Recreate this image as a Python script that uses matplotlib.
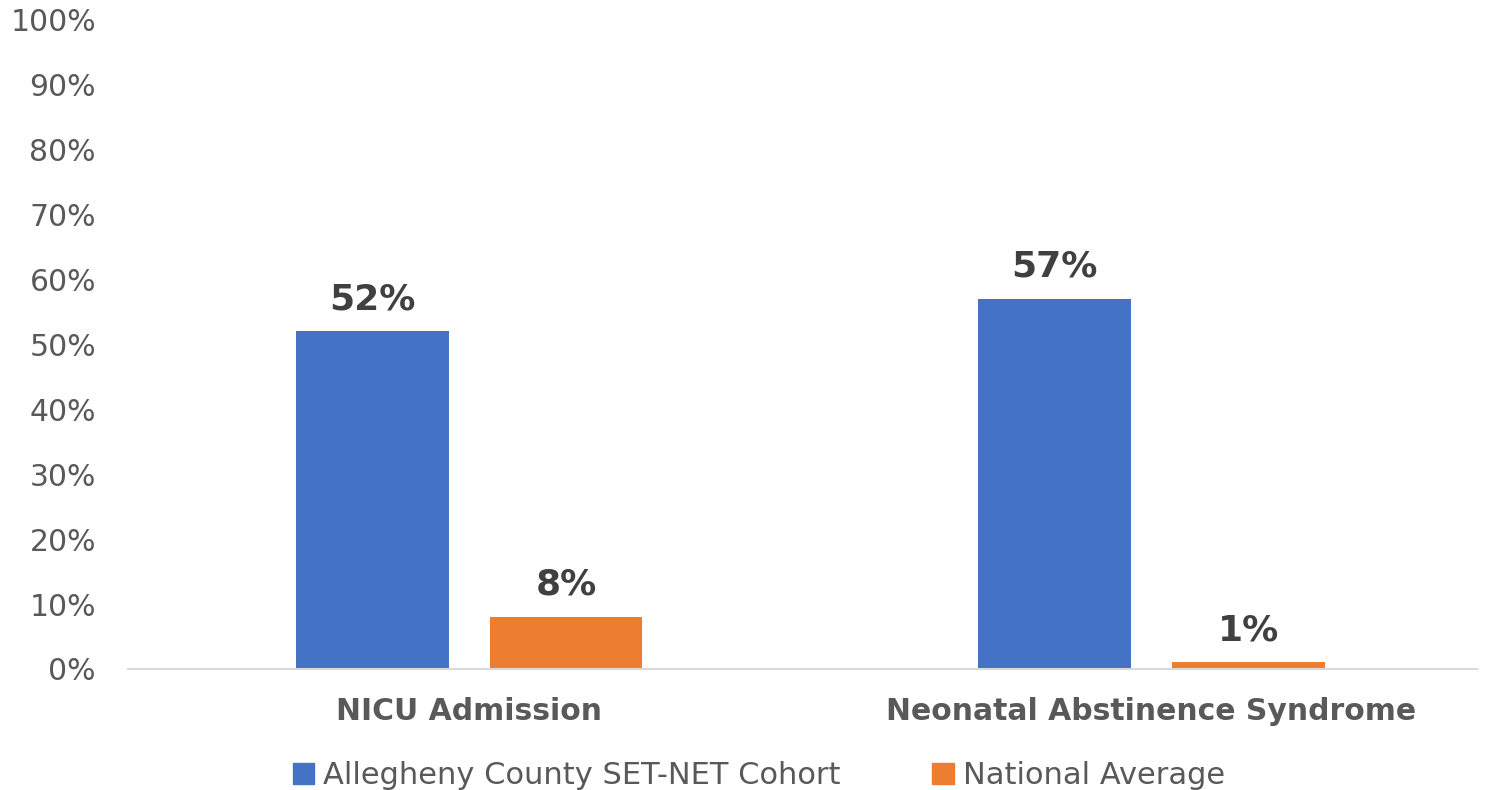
import matplotlib.pyplot as plt
import numpy as np
from matplotlib.patches import Patch

# chart data
categories = ["NICU Admission", "Neonatal Abstinence Syndrome"]
series_names = ["Allegheny County SET-NET Cohort", "National Average"]
cohort = [0.52, 0.57]
national = [0.08, 0.01]
colors = ["#4472C4", "#ED7D31"]

fig = plt.figure(figsize=(14.91, 7.90), dpi=100)
ax = fig.add_axes([0.0858, 0.1532, 0.9048, 0.8215])

x = np.arange(len(categories))
width = 0.224
offset = 0.142

bars1 = ax.bar(x - offset, cohort, width, color=colors[0])
bars2 = ax.bar(x + offset, national, width, color=colors[1])

# value labels above bars
for bars in (bars1, bars2):
    for b in bars:
        ax.annotate(f"{b.get_height() * 100:.0f}%",
                    (b.get_x() + b.get_width() / 2, b.get_height()),
                    xytext=(0, 11), textcoords="offset points",
                    ha="center", va="bottom", fontsize=26,
                    fontweight="bold", color="#404040")

ax.set_ylim(0, 1)
ax.set_xlim(-0.5, 1.477)
ax.set_yticks(np.arange(0, 1.01, 0.1))
ax.set_yticklabels([f"{v}%" for v in range(0, 101, 10)])
ax.set_xticks(x)
ax.set_xticklabels(categories, fontweight="bold")

ax.tick_params(axis="y", length=0, labelsize=21.5, labelcolor="#595959", pad=23)
ax.tick_params(axis="x", length=0, labelsize=21.5, labelcolor="#595959", pad=20)

for s in ["top", "right", "left"]:
    ax.spines[s].set_visible(False)
ax.spines["bottom"].set_color("#d9d9d9")
ax.spines["bottom"].set_linewidth(1.5)

handles = [Patch(color=c, label=n) for c, n in zip(colors, series_names)]
fig.legend(handles=handles, loc="center", bbox_to_anchor=(0.509, 0.018),
           ncol=2, frameon=False, fontsize=22, labelcolor="#595959",
           handlelength=0.7, handleheight=0.7, handletextpad=0.3,
           columnspacing=3.0)

fig.savefig("out.png", dpi=100)
